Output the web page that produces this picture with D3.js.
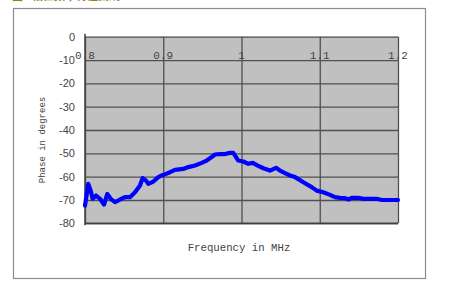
<!DOCTYPE html>
<html>
<head>
<meta charset="utf-8">
<script src="https://cdn.jsdelivr.net/npm/d3@7"></script>
<style>
  html, body { margin: 0; padding: 0; background: #fff; }
  svg { display: block; }
</style>
</head>
<body>
<svg id="chart" width="450" height="293"></svg>
<script>
// ---- data ----
const freqMHz = [0.800, 0.8042, 0.8073, 0.8098, 0.8141, 0.8192, 0.8243, 0.8285, 0.8328, 0.8383,
  0.8447, 0.8511, 0.8575, 0.8639, 0.8703, 0.8737, 0.8780, 0.8809, 0.8873, 0.8937,
  0.8980, 0.9035, 0.9086, 0.9150, 0.9256, 0.9320, 0.9406, 0.9491, 0.9555, 0.9619,
  0.9661, 0.9725, 0.9789, 0.9853, 0.9895, 0.9930, 0.9959, 1.0023, 1.0087, 1.0143,
  1.0202, 1.0279, 1.0364, 1.0441, 1.0492, 1.0556, 1.0620, 1.0684, 1.0790, 1.0897,
  1.0961, 1.1045, 1.1131, 1.1195, 1.1259, 1.1323, 1.1365, 1.1408, 1.1493, 1.1556,
  1.1642, 1.1728, 1.1792, 1.1898, 1.2000];
const phaseDeg = [-72.4, -63.1, -66.0, -69.5, -68.1, -69.5, -72.0, -67.4, -69.5, -70.9,
  -69.8, -68.8, -68.8, -66.7, -63.8, -60.6, -61.7, -63.1, -62.1, -60.2,
  -59.5, -58.8, -58.1, -57.1, -56.7, -55.9, -55.2, -54.1, -53.1, -51.6,
  -50.5, -50.3, -50.3, -49.8, -49.8, -51.6, -53.1, -53.5, -54.5, -54.1,
  -55.2, -56.4, -57.4, -56.2, -57.4, -58.5, -59.5, -60.2, -62.4, -64.5,
  -66.0, -66.7, -67.8, -68.8, -69.1, -69.2, -69.8, -69.1, -69.1, -69.5,
  -69.5, -69.5, -70.0, -70.0, -70.0];
const xTicks = [0.8, 0.9, 1.0, 1.1, 1.2];
const xTickLabels = ["0.8", "0.9", "1", "1.1", "1.2"];
const yTicks = [0, -10, -20, -30, -40, -50, -60, -70, -80];
const xTitle = "Frequency in MHz";
const yTitle = "Phase in degrees";
const caption = "图4 相位频率特性曲线";

// ---- drawing ----
const svg = d3.select("#chart");
const plot = { left: 85, right: 398, top: 36.7, bottom: 223.3 };

const x = d3.scaleLinear().domain([0.8, 1.2]).range([plot.left, plot.right]);
const y = d3.scaleLinear().domain([-80, 0]).range([plot.bottom, plot.top]);

// caption, mostly cut off by the top edge as in the reference
svg.append("text")
  .attr("x", 12).attr("y", -0.2)
  .attr("font-family", "Noto Sans CJK SC")
  .attr("font-size", 11)
  .attr("font-weight", "bold")
  .attr("fill", "#9a7a20")
  .text(caption);

// outer frame
svg.append("rect")
  .attr("x", 13.5).attr("y", 8.5)
  .attr("width", 412).attr("height", 270)
  .attr("fill", "#fff")
  .attr("stroke", "#8c8c8c").attr("stroke-width", 1.2);

// plot background
svg.append("rect")
  .attr("x", plot.left).attr("y", plot.top)
  .attr("width", plot.right - plot.left).attr("height", plot.bottom - plot.top)
  .attr("fill", "#c0c0c0");

// horizontal gridlines
svg.append("g")
  .attr("transform", `translate(${plot.left},0)`)
  .call(d3.axisLeft(y).tickValues(yTicks).tickSize(-(plot.right - plot.left)).tickFormat(""))
  .call(g => g.select(".domain").remove())
  .call(g => g.selectAll("line").attr("stroke", "#505050").attr("stroke-width", 1.3));

// vertical gridlines
svg.append("g")
  .attr("transform", `translate(0,${plot.top})`)
  .call(d3.axisBottom(x).tickValues(xTicks).tickSize(plot.bottom - plot.top).tickFormat(""))
  .call(g => g.select(".domain").remove())
  .call(g => g.selectAll("line").attr("stroke", "#505050").attr("stroke-width", 1.3));

// left axis line
svg.append("line")
  .attr("x1", plot.left).attr("x2", plot.left)
  .attr("y1", plot.top - 3).attr("y2", plot.bottom + 2)
  .attr("stroke", "#404040").attr("stroke-width", 1.5);
// bottom border
svg.append("line")
  .attr("x1", plot.left).attr("x2", plot.right)
  .attr("y1", plot.bottom).attr("y2", plot.bottom)
  .attr("stroke", "#404040").attr("stroke-width", 1.5);

// y tick labels
svg.append("g")
  .selectAll("text")
  .data(yTicks)
  .join("text")
  .attr("x", 75)
  .attr("y", d => y(d))
  .attr("dy", "0.36em")
  .attr("text-anchor", "end")
  .attr("font-family", "Liberation Sans, Arial, sans-serif")
  .attr("font-size", 11)
  .attr("fill", "#444")
  .text(d => String(d));

// x tick labels (shown along the -10 gridline)
svg.append("g")
  .selectAll("text")
  .data(xTicks)
  .join("text")
  .attr("x", d => x(d))
  .attr("y", y(-10) - 1.5)
  .attr("text-anchor", "middle")
  .attr("font-family", "Liberation Mono, DejaVu Sans Mono, monospace")
  .attr("font-size", 11)
  .attr("fill", "#444")
  .text((d, i) => xTickLabels[i]);

// axis titles
svg.append("text")
  .attr("x", 239).attr("y", 251)
  .attr("text-anchor", "middle")
  .attr("font-family", "Liberation Mono, DejaVu Sans Mono, monospace")
  .attr("font-size", 10.7)
  .attr("fill", "#444")
  .text(xTitle);

svg.append("text")
  .attr("transform", "translate(45,140) rotate(-90)")
  .attr("text-anchor", "middle")
  .attr("font-family", "Liberation Mono, DejaVu Sans Mono, monospace")
  .attr("font-size", 9)
  .attr("fill", "#444")
  .text(yTitle);

// the series
const pts = freqMHz.map((f, i) => [f, phaseDeg[i]]);
svg.append("path")
  .datum(pts)
  .attr("fill", "none")
  .attr("stroke", "#0000ff")
  .attr("stroke-width", 4.2)
  .attr("stroke-linejoin", "round")
  .attr("stroke-linecap", "round")
  .attr("d", d3.line().x(d => x(d[0])).y(d => y(d[1])));
</script>
</body>
</html>
